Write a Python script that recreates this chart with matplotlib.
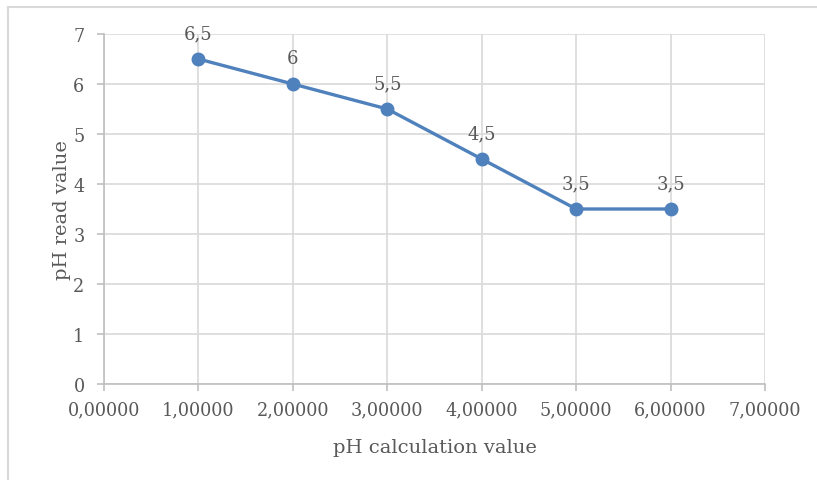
import matplotlib
matplotlib.use("Agg")
import matplotlib.pyplot as plt
from matplotlib.lines import Line2D
from matplotlib.ticker import FuncFormatter, MultipleLocator

# pH calculation value (x) vs pH read value (y)
ph_calc = [1.0, 2.0, 3.0, 4.0, 5.0, 6.0]
ph_read = [6.5, 6.0, 5.5, 4.5, 3.5, 3.5]

LINE = "#4f81bd"
TEXT = "#595959"
GRID = "#d9d9d9"
AXIS = "#bfbfbf"

plt.rcParams["font.family"] = ["DejaVu Serif"]

fig = plt.figure(figsize=(8.17, 4.81), dpi=100)
ax = fig.add_axes([104 / 817, 1 - 385 / 481, (765 - 104) / 817, (385 - 35) / 481])

ax.plot(ph_calc, ph_read, "-o", color=LINE, lw=2.4, ms=9, zorder=3, clip_on=False)
for x, y in zip(ph_calc, ph_read):
    lab = f"{y:g}".replace(".", ",")
    ax.annotate(lab, (x, y), xytext=(0, 12), textcoords="offset points",
                ha="center", va="bottom", fontsize=13, color=TEXT)

ax.set_xlim(0, 7)
ax.set_ylim(0, 7)
ax.xaxis.set_major_locator(MultipleLocator(1))
ax.yaxis.set_major_locator(MultipleLocator(1))
ax.xaxis.set_major_formatter(FuncFormatter(lambda v, p: f"{v:.5f}".replace(".", ",")))
ax.yaxis.set_major_formatter(FuncFormatter(lambda v, p: f"{v:g}"))
ax.grid(True, color=GRID, lw=1.2)
ax.set_axisbelow(True)
for s in ("top", "right"):
    ax.spines[s].set_visible(False)
for s in ("left", "bottom"):
    ax.spines[s].set_color(AXIS)
    ax.spines[s].set_linewidth(1.2)
ax.tick_params(colors=TEXT, labelsize=12.7, length=5, width=1.2, color=AXIS)
ax.tick_params(axis="x", pad=7)
ax.tick_params(axis="y", pad=9)
ax.set_xlabel("pH calculation value", fontsize=14, color=TEXT, labelpad=14)
ax.set_ylabel("pH read value", fontsize=14, color=TEXT, labelpad=2)

# chart frame (top and left edges visible)
fig.add_artist(Line2D([8 / 817, 1], [1 - 8 / 481] * 2, color=GRID, lw=1.5,
                      transform=fig.transFigure))
fig.add_artist(Line2D([8 / 817] * 2, [0, 1 - 8 / 481], color=GRID, lw=1.5,
                      transform=fig.transFigure))

fig.savefig("out.png", dpi=100)
